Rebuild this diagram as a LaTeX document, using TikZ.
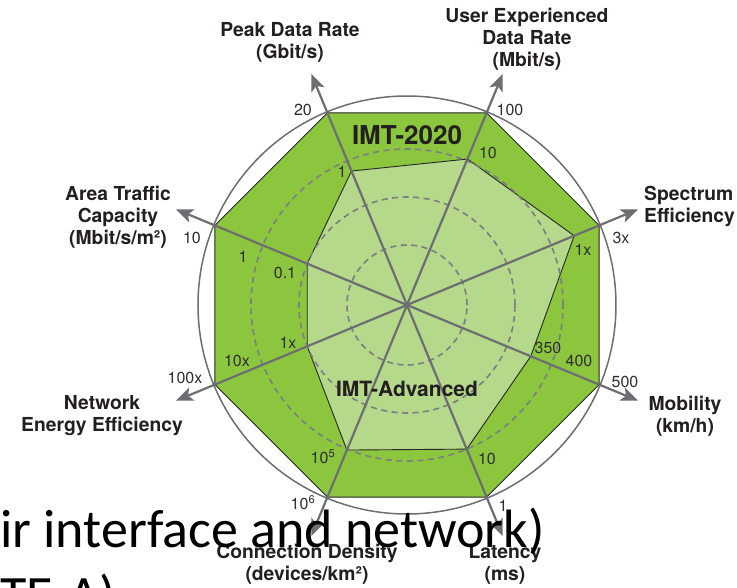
\documentclass[tikz,border=0pt]{standalone}
\usepackage{fontspec}
\setmainfont{TeX Gyre Heros}
\newfontfamily\overlayfont{Carlito}
\usetikzlibrary{arrows.meta}
\definecolor{imtouter}{HTML}{8CC63F}
\definecolor{imtinner}{HTML}{B5D88A}
\definecolor{axisgray}{HTML}{6D6E71}
\definecolor{ringgray}{HTML}{7D7E81}
\definecolor{labelink}{HTML}{231F20}
\definecolor{tickink}{HTML}{2E2E30}

\begin{document}
\begin{tikzpicture}[x=1pt,y=1pt,
  axisline/.style={draw=axisgray, line width=2.2pt,
    -{Stealth[length=17pt,width=14pt,inset=4pt]}},
  ring/.style={draw=ringgray, line width=1.6pt, dash pattern=on 6pt off 4.5pt},
  outline/.style={draw=black!85, line width=0.9pt},
  axislabel/.style={font=\fontsize{19.3}{22}\selectfont\bfseries, text=labelink,
    align=center, inner sep=0pt},
  ticklabel/.style={font=\fontsize{16}{18}\selectfont, text=tickink, inner sep=0pt},
  imtlabel/.style={font=\bfseries, text=labelink, inner sep=0pt},
  overlay text/.style={font=\overlayfont\fontsize{54}{66}\selectfont, text=black,
    inner sep=0pt, anchor=base west},
  ]
\useasboundingbox (-407,-282) rectangle (330,305);
\clip (-407,-282) rectangle (330,305);

% centre of the chart and the eight axes (name / angle / IMT-Advanced radius)
\coordinate (c) at (0,0);
\foreach \n/\a/\r in {peak/112.5/145, user/67.5/158, spec/22.5/181, mob/-22.5/134,
                      lat/-67.5/156, conn/-112.5/157, neff/-157.5/108, area/157.5/108} {
  \coordinate (\n-out) at (\a:208);
  \coordinate (\n-in)  at (\a:\r);
  \coordinate (\n-tip) at (\a:250);
}

% outer circle
\draw[axisgray, line width=1.5pt] (c) circle (209);

% IMT-2020 octagon
\fill[imtouter] (peak-out) -- (user-out) -- (spec-out) -- (mob-out) -- (lat-out)
  -- (conn-out) -- (neff-out) -- (area-out) -- cycle;
\draw[outline] (peak-out) -- (user-out) -- (spec-out) -- (mob-out) -- (lat-out)
  -- (conn-out) -- (neff-out) -- (area-out) -- cycle;

% IMT-Advanced polygon
\filldraw[fill=imtinner, outline] (peak-in) -- (user-in) -- (spec-in) -- (mob-in)
  -- (lat-in) -- (conn-in) -- (neff-in) -- (area-in) -- cycle;

% dashed scale rings
\foreach \r in {60,108,156} \draw[ring] (c) circle (\r);

% axes
\foreach \n in {peak,user,spec,mob,lat,conn,neff,area}
  \draw[axisline] (c) -- (\n-tip);

% polygon names
\node[imtlabel, font=\fontsize{26}{30}\selectfont\bfseries] (t2020) at (0,170) {IMT-2020};
\node[imtlabel, font=\fontsize{21}{24}\selectfont\bfseries] (tadv) at (0,-84) {IMT-Advanced};

% axis names
\node[axislabel] (lpeak) at (-117,263) {Peak Data Rate\\(Gbit/s)};
\node[axislabel] (luser) at (120,265.5) {User Experienced\\Data Rate\\(Mbit/s)};
\node[axislabel, align=left, anchor=west] (lspec) at (237,99) {Spectrum\\Efficiency};
\node[axislabel] (lmob) at (278,-111) {Mobility\\(km/h)};
\node[axislabel] (larea) at (-289,88) {Area Traffic\\Capacity\\(Mbit/s/m²)};
\node[axislabel] (lneff) at (-305,-111) {Network\\Energy Efficiency};
\node[axislabel] (lconn) at (-100,-259) {Connection Density\\(devices/km²)};
\node[axislabel] (llat) at (98,-259) {Latency\\(ms)};

% scale values
\node[ticklabel] (k1) at (-104,195) {20};
\node[ticklabel] (k2) at (-65,133) {1};
\node[ticklabel] (k3) at (103,195) {100};
\node[ticklabel] (k4) at (81,152) {10};
\node[ticklabel] (k5) at (214,67) {3x};
\node[ticklabel] (k6) at (176,55) {1x};
\node[ticklabel] (k7) at (141,-43) {350};
\node[ticklabel] (k8) at (172,-56) {400};
\node[ticklabel] (k9) at (218,-77) {500};
\node[ticklabel] (k10) at (80,-154) {10};
\node[ticklabel] (k11) at (96,-201) {1};
\node[ticklabel] (k12) at (-84,-152) {10\textsuperscript{5}};
\node[ticklabel] (k13) at (-104,-198) {10\textsuperscript{6}};
\node[ticklabel] (k14) at (-222,-73) {100x};
\node[ticklabel] (k15) at (-170,-56) {10x};
\node[ticklabel] (k16) at (-119,-38) {1x};
\node[ticklabel] (k17) at (-215,67) {10};
\node[ticklabel] (k18) at (-164,48) {1};
\node[ticklabel] (k19) at (-122,32) {0.1};

% caption lines laid over the chart
\node[overlay text] (cap1) at (-407,-242) {ir interface and network)};
\node[overlay text] (cap2) at (-407,-308) {TE-A)};
\end{tikzpicture}
\end{document}
